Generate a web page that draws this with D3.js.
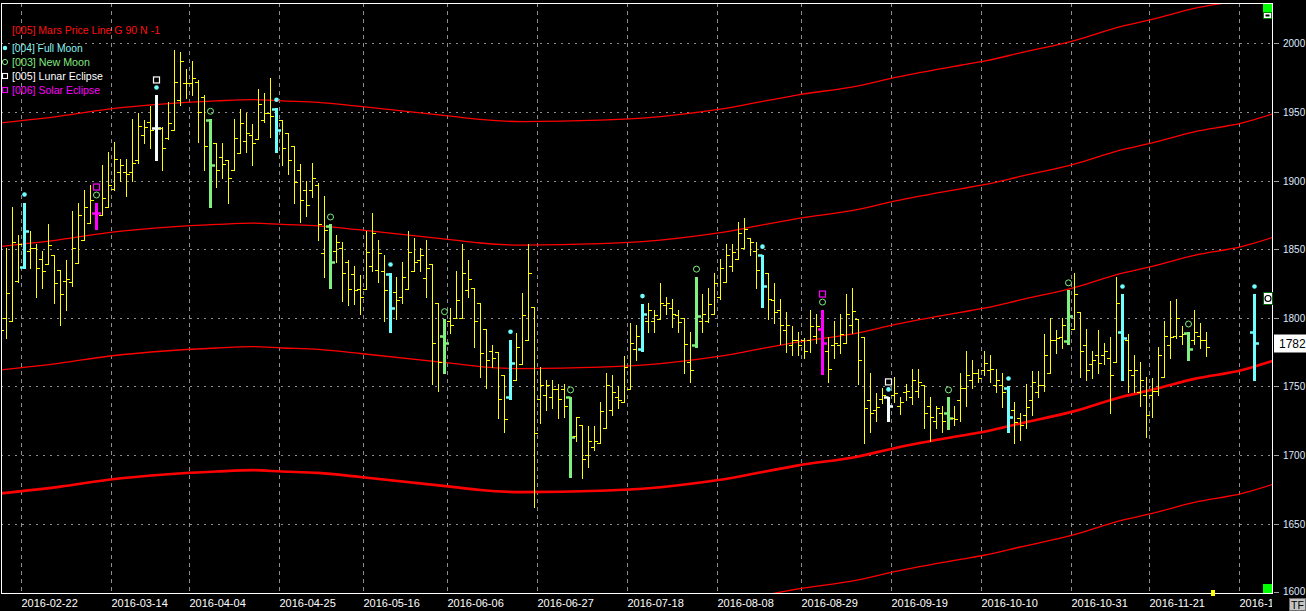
<!DOCTYPE html>
<html><head><meta charset="utf-8">
<script src="https://cdn.jsdelivr.net/npm/d3@7"></script>
<style>
html,body{margin:0;padding:0;background:#000;}
svg{display:block;}
text{font-family:"Liberation Sans",Arial,sans-serif;}
</style></head><body>
<svg id="c" width="1306" height="611"></svg>
<script>
// ---------- DATA ----------
const opens = [1769,1800,1798,1827,1837,1849,1851,1843,1839,1846,1835,1827,1826,1840,1857,1869,1876,1875,1881,1894,
1906,1906,1906,1915,1933,1943,1938,1938,1931,1937,1959,1971,1971,1972,1961,1944,1927,1917,1915,1908,
1920,1929,1933,1930,1944,1949,1952,1944,1935,1925,1908,1893,1893,1897,1847,1867,1849,1851,1841,1832,
1821,1821,1838,1835,1834,1832,1819,1815,1821,1834,1842,1829,1839,1811,1787,1798,1800,1800,1820,1822,
1811,1792,1776,1775,1758,1742,1755,1766,1784,1808,1741,1744,1742,1748,1748,1742,1714,1722,1700,1706,
1709,1720,1733,1742,1739,1748,1777,1777,1798,1798,1799,1809,1807,1802,1800,1768,1780,1798,1798,1803,
1815,1826,1838,1843,1851,1858,1849,1846,1833,1813,1806,1791,1780,1784,1784,1784,1787,1792,1776,1780,
1780,1782,1795,1799,1786,1740,1733,1741,1742,1744,1736,1746,1742,1747,1751,1736,1725,1731,1731,1727,
1740,1749,1755,1760,1762,1762,1751,1751,1749,1733,1727,1729,1740,1746,1751,1760,1784,1786,1783,1792,
1804,1780,1766,1773,1773,1771,1768,1790,1784,1758,1746,1744,1744,1747,1757,1780,1787,1787,1789,1784,
1787,1784,1790];
const highs = [1798,1851,1881,1860,1884,1863,1854,1849,1868,1846,1835,1842,1878,1884,1893,1897,1884,1911,1921,1928,
1916,1916,1945,1949,1944,1954,1962,1939,1957,1995,1994,1981,1987,1973,1962,1945,1927,1927,1915,1945,
1952,1949,1941,1967,1964,1975,1953,1944,1935,1925,1912,1900,1913,1898,1889,1868,1860,1855,1842,1838,
1831,1863,1876,1857,1846,1833,1830,1841,1863,1858,1851,1857,1839,1811,1799,1807,1834,1854,1842,1822,
1811,1792,1780,1775,1758,1784,1789,1818,1854,1808,1764,1755,1755,1752,1752,1742,1728,1722,1721,1721,
1739,1760,1758,1750,1772,1796,1795,1810,1811,1806,1825,1815,1814,1806,1800,1790,1830,1817,1822,1833,
1843,1854,1854,1870,1873,1858,1855,1846,1833,1825,1814,1804,1794,1790,1785,1806,1803,1806,1786,1798,
1803,1817,1822,1799,1786,1760,1745,1749,1742,1757,1742,1752,1763,1763,1751,1742,1736,1736,1742,1736,
1760,1776,1769,1763,1776,1773,1763,1760,1750,1739,1731,1752,1761,1761,1788,1800,1791,1800,1820,1833,
1804,1792,1776,1791,1782,1786,1830,1817,1788,1773,1768,1757,1756,1779,1798,1812,1814,1794,1790,1806,
1796,1790,1817];
const lows = [1760,1785,1798,1826,1836,1836,1815,1822,1839,1811,1795,1806,1823,1840,1857,1869,1865,1875,1881,1893,
1900,1889,1900,1913,1927,1924,1915,1908,1930,1937,1955,1960,1962,1928,1908,1881,1895,1902,1884,1908,
1920,1921,1911,1930,1943,1932,1921,1911,1905,1884,1870,1874,1888,1857,1830,1822,1841,1812,1809,1810,
1803,1821,1834,1826,1798,1790,1799,1811,1821,1834,1834,1815,1752,1747,1760,1789,1800,1800,1815,1779,
1757,1749,1764,1727,1717,1741,1755,1766,1784,1662,1723,1733,1734,1727,1728,1684,1710,1683,1691,1704,
1709,1720,1729,1734,1739,1748,1769,1776,1790,1790,1799,1803,1793,1790,1760,1753,1779,1790,1797,1803,
1814,1826,1834,1843,1851,1846,1822,1808,1799,1796,1781,1775,1773,1773,1771,1775,1782,1759,1753,1771,
1774,1782,1789,1752,1709,1717,1725,1738,1725,1739,1730,1740,1737,1742,1720,1710,1720,1717,1719,1722,
1725,1736,1749,1753,1758,1753,1746,1735,1717,1709,1711,1720,1729,1742,1747,1760,1774,1778,1781,1792,
1757,1755,1756,1760,1766,1731,1768,1755,1746,1746,1736,1713,1728,1744,1757,1771,1785,1781,1769,1781,
1778,1772,1755];
const closes = [1791,1818,1855,1854,1863,1851,1836,1834,1853,1825,1817,1828,1851,1875,1881,1886,1876,1887,1897,1916,
1911,1905,1913,1940,1939,1937,1938,1924,1942,1972,1987,1971,1975,1950,1925,1911,1908,1912,1902,1931,
1942,1935,1927,1956,1949,1947,1937,1924,1915,1899,1886,1882,1902,1868,1864,1841,1855,1833,1821,1820,
1815,1848,1862,1847,1820,1807,1813,1830,1848,1841,1846,1836,1782,1768,1782,1795,1813,1833,1828,1798,
1774,1769,1771,1741,1726,1767,1779,1802,1833,1716,1751,1751,1748,1741,1736,1713,1728,1697,1710,1710,
1732,1751,1746,1740,1764,1782,1787,1803,1806,1802,1811,1811,1803,1797,1781,1762,1801,1803,1810,1825,
1836,1846,1848,1862,1865,1855,1835,1823,1814,1804,1795,1795,1784,1780,1776,1794,1794,1782,1763,1782,
1788,1803,1805,1769,1734,1731,1735,1744,1736,1745,1739,1747,1755,1753,1731,1728,1734,1725,1727,1726,
1749,1758,1760,1756,1767,1763,1755,1746,1728,1724,1722,1735,1753,1751,1773,1784,1785,1795,1801,1817,
1776,1762,1769,1767,1776,1758,1811,1785,1762,1762,1755,1729,1747,1773,1787,1786,1800,1788,1777,1790,
1784,1779,1782];
// bar slot of each bar (trading-day index); data stops after slot 201, last bar sits at slot 209
const barIndex = d3.range(202).concat([209]);

const fullMoon = [4,26,46,65,85,107,127,148,168,187,209];
const newMoon = [16,35,55,74,95,116,137,158,178,198];
const lunarEclipse = [26,148];
const solarEclipse = [16,137];

const dateLabels = ["2016-02-22","2016-03-14","2016-04-04","2016-04-25","2016-05-16","2016-06-06","2016-06-27",
"2016-07-18","2016-08-08","2016-08-29","2016-09-19","2016-10-10","2016-10-31","2016-11-21","2016-12-12"];
const dateSlots = [4,19,32,47,61,75,90,105,120,134,149,164,179,192,207];
const yTicks = [1600,1650,1700,1750,1800,1850,1900,1950,2000];

// Mars price line (base) read at slots, and the 90-point harmonic levels drawn
const marsSlots = [0,10,18,28,36,42,47,53,60,75,80,87,100,107,120,133,143,149,160,164,170,179,187,192,199,207,212];
const marsBase = [1672,1677,1682,1686,1688,1689,1688,1687,1684,1677,1674.5,1673,1674,1675.5,1682,1692.5,1699,1705,1714,1717,1723,1732,1742.5,1747.5,1755.5,1762,1768.5];
const marsLevels = [-90,0,90,180,270];
const lastPrice = 1782;

// ---------- CHART ----------
const svg = d3.select("#c");
const L = 1, R = 1272, T = 3, B = 593;
const x = d3.scaleLinear().domain([0, 211.95]).range([0.3, 1272]);
const y = d3.scaleLinear().domain([1600, 2000]).range([592.3, 43.3]);

svg.append("rect").attr("width",1306).attr("height",611).attr("fill","#000");
svg.append("defs").append("clipPath").attr("id","plot")
  .append("rect").attr("x",L+0.5).attr("y",T+0.5).attr("width",R-L-0.5).attr("height",B-T-0.5);
svg.select("defs").append("clipPath").attr("id","xlab")
  .append("rect").attr("x",0).attr("y",594).attr("width",R).attr("height",17);

const grid = svg.append("g").attr("clip-path","url(#plot)");
grid.selectAll("line.h").data(yTicks.filter(v=>v>1600)).join("line")
  .attr("x1",L).attr("x2",R)
  .attr("y1",d=>Math.round(y(d))+0.5).attr("y2",d=>Math.round(y(d))+0.5)
  .attr("stroke","#8c8c8c").attr("stroke-dasharray","2,5").attr("stroke-width",1);
grid.selectAll("line.v").data(dateSlots).join("line")
  .attr("x1",d=>Math.round(x(d-0.5))+0.5).attr("x2",d=>Math.round(x(d-0.5))+0.5)
  .attr("y1",T).attr("y2",B)
  .attr("stroke","#8c8c8c").attr("stroke-dasharray","4,4").attr("stroke-width",1);

// Mars lines
const plot = svg.append("g").attr("clip-path","url(#plot)");
const marsPts = marsSlots.map((s,j)=>({s, v:marsBase[j]}));
const lineGen = d3.line().x(d=>x(d.s)).curve(d3.curveMonotoneX);
marsLevels.forEach(off=>{
  plot.append("path").datum(marsPts)
    .attr("d", lineGen.y(d=>y(d.v+off)))
    .attr("fill","none").attr("stroke","#ff0000")
    .attr("stroke-width", off===0 ? 2.6 : 1.3);
});

// bars
const colors = {normal:"#ffff00", full:"#70ffff", nw:"#80f080", lunar:"#f2ffff", solar:"#ff00ff"};
function kind(i){
  if (solarEclipse.includes(i)) return "solar";
  if (lunarEclipse.includes(i)) return "lunar";
  if (fullMoon.includes(i)) return "full";
  if (newMoon.includes(i)) return "nw";
  return "normal";
}
const bars = barIndex.map((i,j)=>({i, o:opens[j], h:highs[j], l:lows[j], c:closes[j], k:kind(i)}));
const bg = plot.append("g");
bars.forEach(b=>{
  const col = colors[b.k];
  const thick = b.k !== "normal";
  const px = Math.round(x(b.i)) + 0.5;
  const w = thick ? 3 : 1;
  const tl = thick ? 4.5 : 3.5;
  const tw = thick ? 2.5 : 1;
  const yh = Math.round(y(b.h)), yl = Math.round(y(b.l));
  bg.append("line").attr("x1",px).attr("x2",px).attr("y1",yh).attr("y2",yl+1)
    .attr("stroke",col).attr("stroke-width",w);
  const yo = Math.round(y(b.o)) + 0.5, yc = Math.round(y(b.c)) + 0.5;
  bg.append("line").attr("x1",px - tl).attr("x2",px).attr("y1",yo).attr("y2",yo)
    .attr("stroke",col).attr("stroke-width",tw);
  bg.append("line").attr("x1",px).attr("x2",px + tl).attr("y1",yc).attr("y2",yc)
    .attr("stroke",col).attr("stroke-width",tw);
});

// moon markers
const mg = plot.append("g");
bars.forEach(b=>{
  const px = Math.round(x(b.i)) + 0.5;
  const yh = y(b.h);
  if (fullMoon.includes(b.i)) {
    mg.append("circle").attr("cx",px).attr("cy",yh-8).attr("r",2.3).attr("fill",colors.full);
  }
  if (newMoon.includes(b.i)) {
    mg.append("circle").attr("cx",px).attr("cy",yh-7.5).attr("r",3).attr("fill","none")
      .attr("stroke",colors.nw).attr("stroke-width",1);
  }
  if (lunarEclipse.includes(b.i) || solarEclipse.includes(b.i)) {
    const col = lunarEclipse.includes(b.i) ? "#ffffff" : "#ff00ff";
    mg.append("rect").attr("x",px-3).attr("y",yh-18.5).attr("width",6).attr("height",6)
      .attr("fill","none").attr("stroke",col).attr("stroke-width",1.2);
  }
});

// frame
svg.append("line").attr("x1",L+0.5).attr("x2",L+0.5).attr("y1",T).attr("y2",B+1).attr("stroke","#fff");
svg.append("line").attr("x1",L).attr("x2",R+1).attr("y1",T+0.5).attr("y2",T+0.5).attr("stroke","#fff");
svg.append("line").attr("x1",R+0.5).attr("x2",R+0.5).attr("y1",T).attr("y2",B+1).attr("stroke","#fff");
svg.append("line").attr("x1",L).attr("x2",R+1).attr("y1",B+0.5).attr("y2",B+0.5).attr("stroke","#fff");

// y axis labels + tick marks
const ya = svg.append("g");
yTicks.forEach(v=>{
  const yy = Math.round(y(v)) + 0.5;
  ya.append("line").attr("x1",1274).attr("x2",1279).attr("y1",yy).attr("y2",yy).attr("stroke","#a0a0a0");
  ya.append("text").attr("x",1283).attr("y",y(v) + (v===1600 ? 3 : 4)).attr("fill","#dde9ff")
    .attr("font-size",10).text(v);
});

// x axis labels (last one runs under the price axis, as in the source)
const xa = svg.append("g").attr("clip-path","url(#xlab)");
dateSlots.forEach((s,j)=>{
  xa.append("text").attr("x",Math.round(x(s-0.5))+0.5).attr("y",607).attr("fill","#ffffff")
    .attr("font-size",11).text(dateLabels[j]);
});

// last price box
svg.append("rect").attr("x",1274).attr("y",Math.round(y(lastPrice))-8.5).attr("width",32).attr("height",18).attr("fill","#ffffff");
svg.append("text").attr("x",1279).attr("y",Math.round(y(lastPrice))+4.5).attr("fill","#000")
  .attr("font-size",12).text(lastPrice);

// small status widgets
svg.append("rect").attr("x",1263).attr("y",4).attr("width",9).attr("height",9).attr("fill","#00ff00");
svg.append("rect").attr("x",1263.5).attr("y",12.5).attr("width",8).attr("height",6).attr("fill","#ffffff").attr("stroke","#008000");
svg.append("rect").attr("x",1265.5).attr("y",14.5).attr("width",4).attr("height",2).attr("fill","#000");
svg.append("rect").attr("x",1263).attr("y",584).attr("width",9).attr("height",9).attr("fill","#00ff00");
svg.append("rect").attr("x",1211).attr("y",590).attr("width",4).attr("height",6).attr("fill","#ffff00");
svg.append("rect").attr("x",1263.5).attr("y",292.5).attr("width",9).attr("height",12).attr("fill","#ffffff").attr("stroke","#006400");
svg.append("circle").attr("cx",1268).attr("cy",298.5).attr("r",3).attr("fill","#fff").attr("stroke","#000").attr("stroke-width",1.2);
svg.append("rect").attr("x",1289.5).attr("y",598.5).attr("width",16).attr("height",12).attr("fill","#c4c4c4").attr("stroke","#6e6e6e");
svg.append("text").attr("x",1297.5).attr("y",609).attr("text-anchor","middle").attr("fill","#000")
  .attr("font-size",10.5).text("TF");

// legend
const lg = svg.append("g");
lg.append("text").attr("x",12).attr("y",34).attr("fill","#ff1010").attr("font-size",11)
  .attr("textLength",148).attr("lengthAdjust","spacingAndGlyphs").text("[005] Mars Price Line G 90 N -1");
const legendRows = [
  {t:"[004] Full Moon", c:"#88f4f4", w:70.6, m:"dot", mc:colors.full},
  {t:"[003] New Moon", c:"#80e880", w:78, m:"circle", mc:colors.nw},
  {t:"[005] Lunar Eclipse", c:"#ffffff", w:91, m:"square", mc:"#ffffff"},
  {t:"[006] Solar Eclipse", c:"#ff00ff", w:88, m:"square", mc:"#ff00ff"}
];
legendRows.forEach((r,j)=>{
  const cy = 48 + j*14;
  lg.append("text").attr("x",12).attr("y",cy+4).attr("fill",r.c).attr("font-size",11)
    .attr("textLength",r.w).attr("lengthAdjust","spacingAndGlyphs").text(r.t);
  if (r.m==="dot") lg.append("circle").attr("cx",5).attr("cy",cy).attr("r",2.2).attr("fill",r.mc);
  if (r.m==="circle") lg.append("circle").attr("cx",5).attr("cy",cy).attr("r",2.6).attr("fill","none").attr("stroke",r.mc);
  if (r.m==="square") lg.append("rect").attr("x",2.5).attr("y",cy-2.5).attr("width",5).attr("height",5).attr("fill","none").attr("stroke",r.mc).attr("stroke-width",1.1);
});
</script>
</body></html>
